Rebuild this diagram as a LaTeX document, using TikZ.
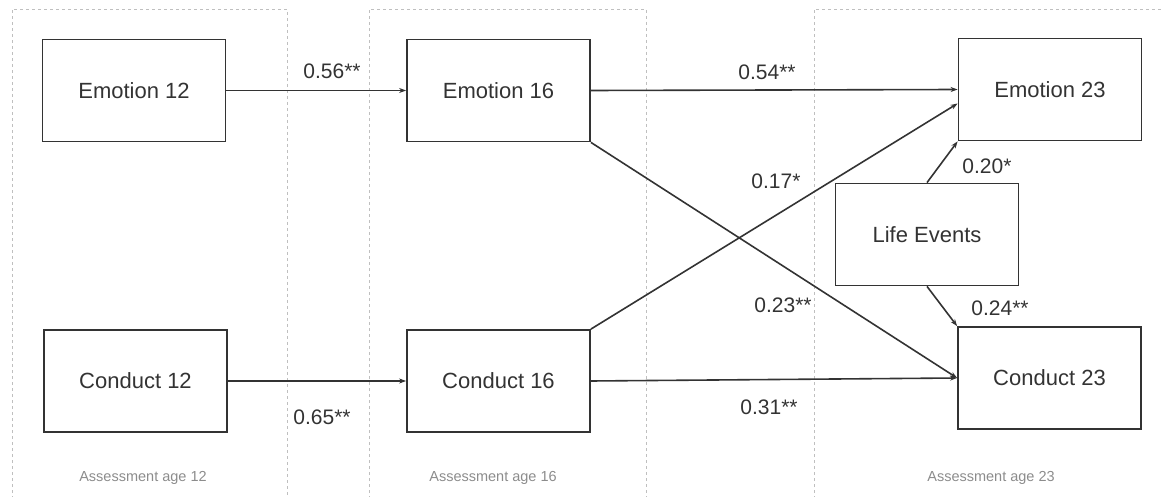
\documentclass[tikz,border=0pt]{standalone}
\usepackage{fontspec}
\setmainfont{Liberation Sans}
\usetikzlibrary{arrows.meta}
\usetikzlibrary{positioning}

\begin{document}
\begin{tikzpicture}[x=1pt, y=-1pt,
                    node distance=5mm,
                    box/.style={draw=black!80,
                      line width=1.8pt,
                      rectangle,
                      minimum width = 183pt,
                      minimum height = 102pt,
                      inner sep=0pt,
                      text=black!80,
                      font=\fontsize{22}{26}\selectfont},
                    coef/.style={inner sep=0pt,
                      text=black!80,
                      font=\fontsize{21}{24}\selectfont},
                    panel/.style={draw=black!25,
                      dashed,
                      line width=0.7pt},
                    age/.style={inner sep=0pt,
                      text=black!45,
                      font=\fontsize{14.5}{17}\selectfont},
                    link/.style={draw=black!80,
                      line width=1.6pt,
                      -{Stealth[length=7pt,width=5pt]}}]
\useasboundingbox (0,0) rectangle (1163,497);
\draw[panel] (12,505) -- (12,9) -- (287,9) -- (287,505);
\draw[panel] (369,505) -- (369,9) -- (646,9) -- (646,505);
\draw[panel] (814,505) -- (814,9) -- (1170,9);
\node (e12) [box] at (134,90.5) {Emotion 12};
\node (e16) [box] at (498.5,90.5) {Emotion 16};
\node (e23) [box] at (1050,89.5) {Emotion 23};
\node (c12) [box] at (135.5,381) {Conduct 12};
\node (c16) [box] at (498.5,381) {Conduct 16};
\node (c23) [box] at (1049.5,378) {Conduct 23};
\node (life) [box] at (927,234.5) {Life Events};
\node (age12) [age] at (143,478) {Assessment age 12};
\node (age16) [age] at (493,478) {Assessment age 16};
\node (age23) [age] at (991,478) {Assessment age 23};
\draw[link] (e12) -- (e16);
\draw[link] (c12) -- (c16);
\draw[link] (e16.east) -- (e23.west);
\draw[link] (e16.south east) -- (c23.west);
\draw[link] (c16.north east) -- ([yshift=-14pt]e23.west);
\draw[link] (c16.east) -- (c23.west);
\draw[link] (life.north) -- (e23.south west);
\draw[link] (life.south) -- (c23.north west);
\node (p1) [coef] at (332,71) {0.56**};
\node (p2) [coef] at (322,417) {0.65**};
\node (p3) [coef] at (767,72) {0.54**};
\node (p4) [coef] at (776,181) {0.17*};
\node (p5) [coef] at (783,305) {0.23**};
\node (p6) [coef] at (769,407) {0.31**};
\node (p7) [coef] at (987,166) {0.20*};
\node (p8) [coef] at (1000,308) {0.24**};
\end{tikzpicture}
\end{document}
